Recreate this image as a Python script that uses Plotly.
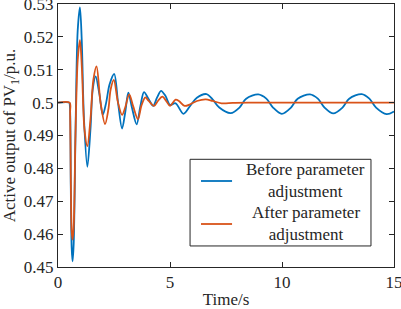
import plotly.graph_objects as go

# Before parameter adjustment (blue)
t_before = [0, 0.5, 0.53, 0.57, 0.61, 0.65, 0.70, 0.78, 0.88, 0.98, 1.06, 1.16, 1.31, 1.45, 1.55, 1.68,
            1.85, 2.0, 2.15, 2.30, 2.51, 2.68, 2.86, 3.0, 3.14, 3.30, 3.51, 3.68, 3.84, 4.05, 4.25, 4.42,
            4.60, 4.80, 5.0, 5.25, 5.6, 5.9, 6.2, 6.63, 6.9, 7.2, 7.71, 8.1, 8.4, 8.94, 9.3, 9.6, 9.99,
            10.4, 10.7, 11.25, 11.6, 11.9, 12.29, 12.7, 13.0, 13.56, 13.9, 14.2, 14.67, 15]
p_before = [0.5, 0.5, 0.499, 0.475, 0.456, 0.4517, 0.457, 0.49, 0.522, 0.529, 0.519, 0.495, 0.4805, 0.492,
            0.504, 0.508, 0.5025, 0.4963, 0.500, 0.5055, 0.5087, 0.500, 0.4921, 0.497, 0.5030, 0.4985,
            0.4934, 0.499, 0.5032, 0.501, 0.499, 0.5015, 0.5036, 0.502, 0.4993, 0.4998, 0.4966, 0.499,
            0.5015, 0.5026, 0.501, 0.4985, 0.4968, 0.4985, 0.5012, 0.5025, 0.5012, 0.4985, 0.4966, 0.4985,
            0.5012, 0.5025, 0.5012, 0.4985, 0.4967, 0.4985, 0.5012, 0.5026, 0.5012, 0.4985, 0.4965, 0.4973]

# After parameter adjustment (orange)
t_after = [0, 0.52, 0.54, 0.57, 0.61, 0.65, 0.70, 0.78, 0.88, 0.98, 1.07, 1.18, 1.31, 1.45, 1.58, 1.72,
           1.90, 2.10, 2.25, 2.35, 2.49, 2.68, 2.86, 3.0, 3.18, 3.35, 3.57, 3.72, 3.90, 4.05, 4.29, 4.46,
           4.66, 4.85, 5.0, 5.25, 5.4, 5.65, 5.9, 6.2, 6.6, 6.9, 7.3, 7.8, 8.5, 15]
p_after = [0.5, 0.5, 0.497, 0.478, 0.461, 0.4583, 0.462, 0.49, 0.513, 0.519, 0.510, 0.492, 0.4868, 0.495,
           0.507, 0.511, 0.500, 0.4935, 0.498, 0.504, 0.5069, 0.500, 0.4963, 0.4985, 0.5025, 0.499, 0.4950,
           0.499, 0.5016, 0.5005, 0.4990, 0.5005, 0.5018, 0.5003, 0.4990, 0.5009, 0.5005, 0.4990, 0.4995,
           0.5005, 0.5010, 0.5005, 0.4998, 0.4999, 0.5, 0.5]

x_ticks = [0, 5, 10, 15]
y_ticks = [0.45, 0.46, 0.47, 0.48, 0.49, 0.5, 0.51, 0.52, 0.53]
y_tick_labels = ["0.45", "0.46", "0.47", "0.48", "0.49", "0.5", "0.51", "0.52", "0.53"]
series_names = ["Before parameter<br>adjustment", "After parameter<br>adjustment"]

BLUE = "#0072BD"
ORANGE = "#D95319"
INK = "#262626"
FONT = "Liberation Serif, Times New Roman, serif"
FS = 17
LW = 1.8

fig = go.Figure()
fig.add_trace(go.Scatter(x=t_before, y=p_before, mode="lines", name=series_names[0],
                         line=dict(color=BLUE, width=LW, shape="spline", smoothing=0.9),
                         showlegend=False))
fig.add_trace(go.Scatter(x=t_after, y=p_after, mode="lines", name=series_names[1],
                         line=dict(color=ORANGE, width=LW, shape="spline", smoothing=0.9),
                         showlegend=False))

axis_common = dict(showline=True, linecolor=INK, linewidth=1, mirror="ticks",
                   ticks="inside", ticklen=5, tickcolor=INK, showgrid=False, zeroline=False,
                   automargin=False, ticklabeloverflow="allow",
                   tickfont=dict(family=FONT, size=FS, color=INK))
fig.update_xaxes(range=[0, 15], tickvals=x_ticks, ticktext=[str(v) for v in x_ticks],
                 title=dict(text="Time/s", font=dict(family=FONT, size=FS, color=INK), standoff=5),
                 **axis_common)
fig.update_yaxes(range=[0.45, 0.53], tickvals=y_ticks, ticktext=y_tick_labels,
                 title=dict(text="Active output of PV<sub>1</sub>/p.u.", font=dict(family=FONT, size=FS, color=INK),
                            standoff=4),
                 **axis_common)

# Manual legend (box, sample lines, centred two-line labels)
fig.add_shape(type="rect", xref="paper", yref="paper", x0=0.393, x1=0.9315, y0=0.08, y1=0.4095,
              line=dict(color=INK, width=1), fillcolor="white", layer="above")
for yy, col, name in [(0.327, BLUE, series_names[0]), (0.1635, ORANGE, series_names[1])]:
    fig.add_shape(type="line", xref="paper", yref="paper", x0=0.4256, x1=0.518, y0=yy, y1=yy,
                  line=dict(color=col, width=LW), layer="above")
    fig.add_annotation(xref="paper", yref="paper", x=0.738, y=yy, text=name, showarrow=False,
                       align="center", xanchor="center", yanchor="middle",
                       font=dict(family=FONT, size=FS, color=INK))

fig.update_layout(width=401, height=309, margin=dict(l=58, r=7, t=4, b=42),
                  paper_bgcolor="white", plot_bgcolor="white",
                  font=dict(family=FONT, size=FS, color=INK))
fig.write_html("out.html", config={"displayModeBar": False},
               post_script="document.body.style.margin='0';document.body.style.overflow='hidden';")
